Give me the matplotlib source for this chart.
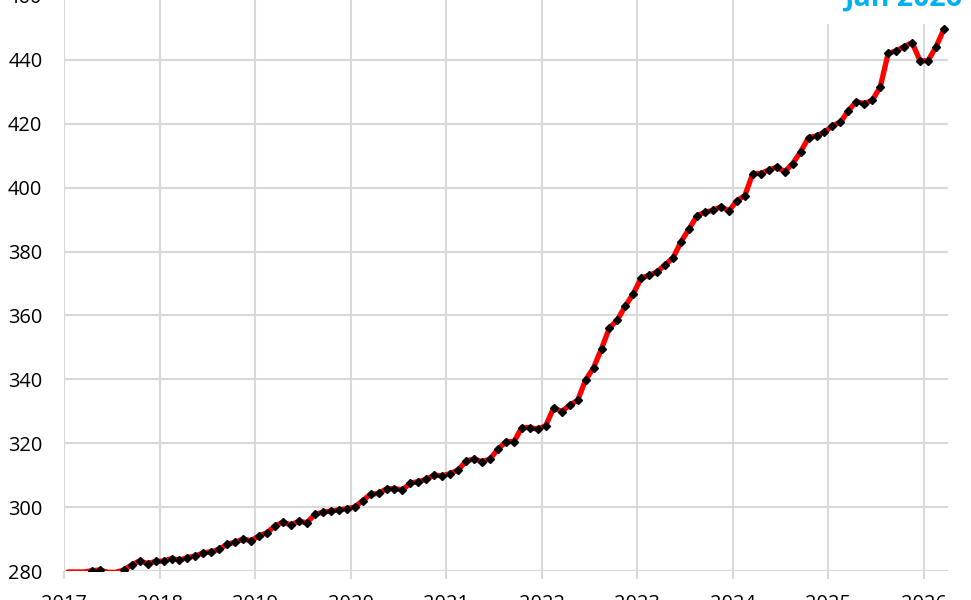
import matplotlib
matplotlib.use("Agg")
import matplotlib.pyplot as plt
import numpy as np
from matplotlib.patches import Rectangle

plt.rcParams['font.family'] = ['Open Sans', 'DejaVu Sans']

# Monthly values, Jan 2017 .. Mar 2026
values_2017 = [279.7, 279.7, 279.7, 280.1, 280.3, 279.6, 279.6, 280.3, 281.9, 283.2, 282.3, 283.0]
values_2018 = [283.1, 283.9, 283.4, 284.2, 284.7, 285.7, 286.0, 286.8, 288.4, 289.0, 290.0, 289.5]
values_2019 = [291.0, 292.0, 294.1, 295.3, 294.4, 295.6, 295.1, 297.7, 298.4, 298.8, 299.1, 299.5]
values_2020 = [300.0, 302.0, 304.0, 304.3, 305.7, 305.8, 305.4, 307.5, 308.0, 308.7, 310.0, 309.8]
values_2021 = [310.5, 311.6, 314.4, 315.1, 314.2, 315.1, 318.1, 320.5, 320.5, 324.9, 324.9, 324.4]
values_2022 = [325.5, 331.1, 329.9, 331.9, 333.4, 339.8, 343.6, 349.6, 356.1, 358.6, 363.0, 366.8]
values_2023 = [371.8, 372.5, 373.7, 375.8, 378.1, 383.1, 387.1, 391.2, 392.3, 392.9, 394.0, 392.7]
values_2024 = [395.9, 397.5, 404.4, 404.4, 405.5, 406.4, 405.0, 407.5, 411.2, 415.6, 416.2, 417.3]
values_2025 = [419.4, 420.4, 424.1, 426.9, 426.3, 427.3, 431.5, 442.0, 442.8, 444.1, 445.4, 439.7]
values_2026 = [439.7, 444.0, 449.6]

start_year = 2017
year_ticks = list(range(2017, 2027))
y_ticks = list(range(280, 461, 20))
title_text = "Jan 2026"

values = np.array(values_2017 + values_2018 + values_2019 + values_2020 + values_2021 +
                  values_2022 + values_2023 + values_2024 + values_2025 + values_2026)
months = np.arange(len(values))
x = start_year + (months + 0.5) / 12.0

fig = plt.figure(figsize=(9.71, 6.0), dpi=100)
ax = fig.add_axes([64 / 971, 29 / 600, 884 / 971, 575.1 / 600])

ax.plot(x, values, color='#ff0000', lw=3.8, solid_capstyle='round', solid_joinstyle='round', zorder=3)
marker_vals = np.where(values >= 280, values, np.nan)
ax.plot(x, marker_vals, ls='none', marker='D', ms=3.6, color='black', zorder=4)

ax.set_xlim(2017, 2026.251)
ax.set_ylim(280, 460)
ax.set_xticks(year_ticks)
ax.set_xticklabels([str(y) for y in year_ticks])
ax.set_yticks(y_ticks)

ax.grid(True, color='#d9d9d9', lw=1.5, zorder=0)
ax.set_axisbelow(True)
for s in ax.spines.values():
    s.set_visible(False)

ax.tick_params(axis='x', length=6, width=1.5, color='#d9d9d9', pad=10.5, labelsize=14.4, labelcolor='black')
ax.tick_params(axis='y', length=0, pad=15.5, labelsize=14.4, labelcolor='black')

fig.patches.append(Rectangle((790 / 971, 1 - 24 / 600), 1 - 790 / 971, 24 / 600,
                             transform=fig.transFigure, facecolor='white', edgecolor='none', zorder=5))
fig.text(962 / 971, 1 - 6 / 600, title_text, ha='right', va='baseline', fontsize=20.5,
         fontweight='bold', color='#00b0f0', zorder=6)

fig.savefig('out.png', dpi=100)
